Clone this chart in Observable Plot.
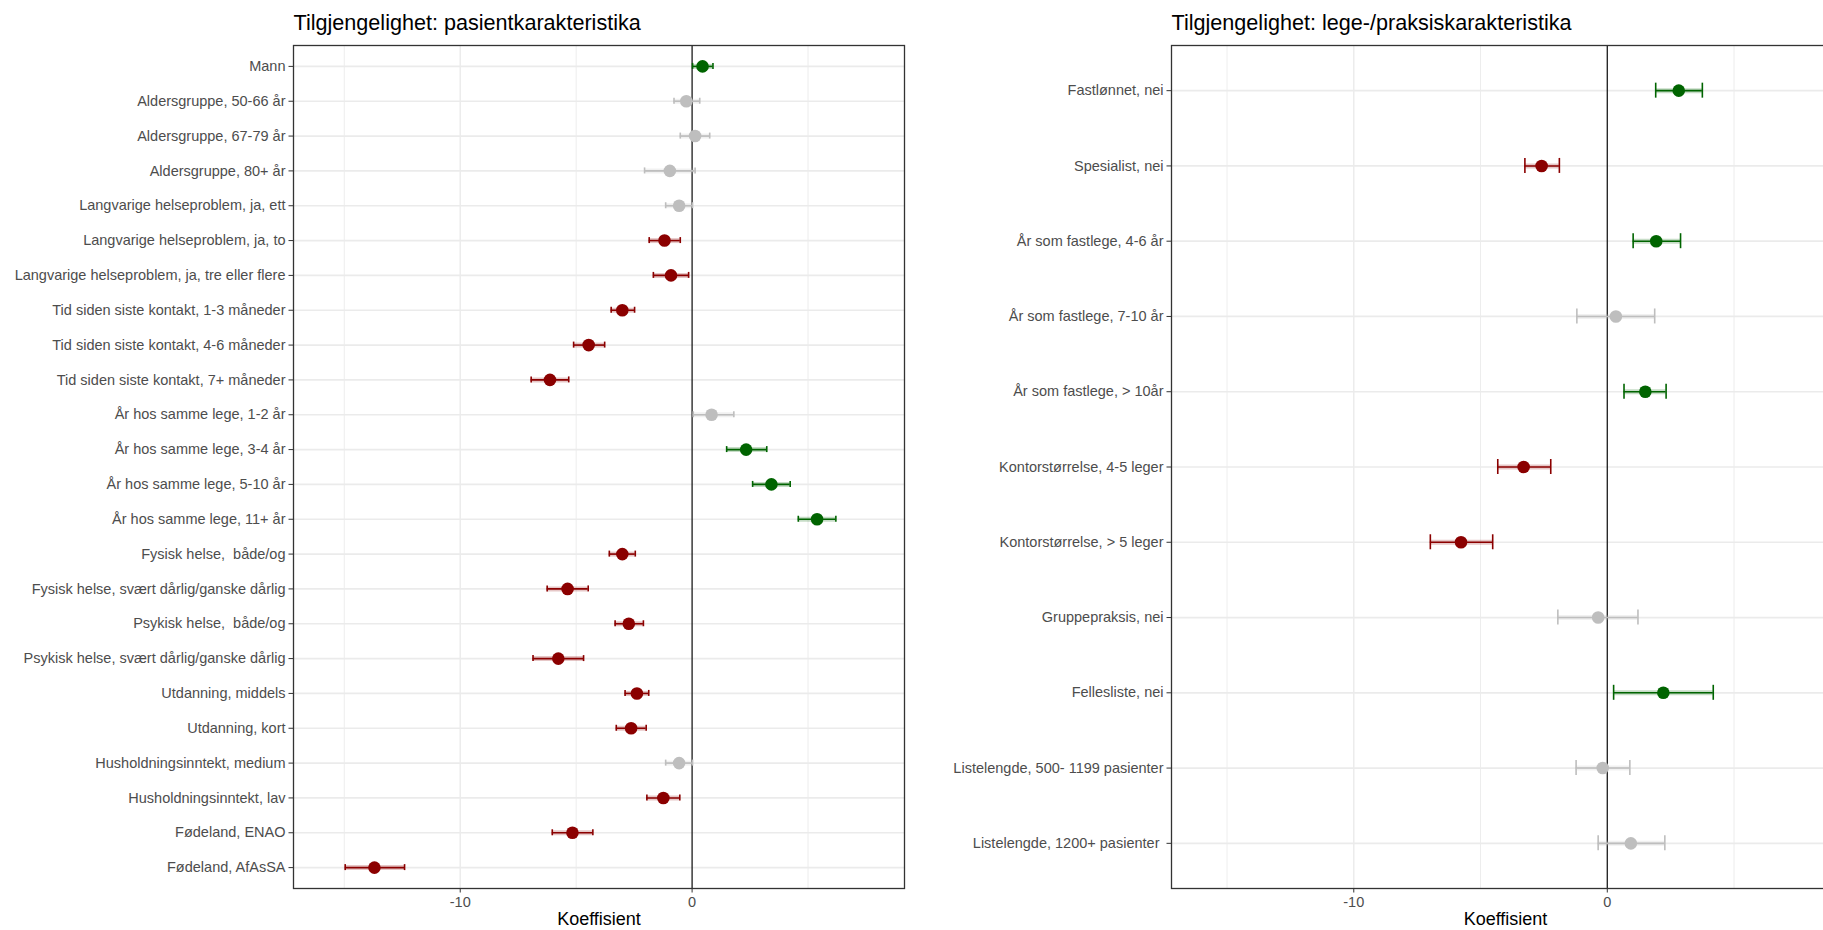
<!DOCTYPE html>
<html>
<head>
<meta charset="utf-8">
<script src="https://cdn.jsdelivr.net/npm/d3@7"></script>
<script src="https://cdn.jsdelivr.net/npm/@observablehq/plot@0.6"></script>
<style>
  html, body { margin: 0; padding: 0; background: #fff; overflow: hidden; }
  #wrap { position: relative; width: 1823px; height: 930px; overflow: hidden; background: #fff; }
  #wrap > div { position: absolute; top: 0; }
  #wrap svg { display: block; max-width: none !important; }
</style>
</head>
<body>
<div id="wrap">
  <div id="left" style="left:0px; width:910px"></div>
  <div id="right" style="left:900px; width:945px"></div>
</div>
<script>
// Patient characteristics: estimate with 95 % interval, and significance class
const patientLabels = [
  "Mann",
  "Aldersgruppe, 50-66 år",
  "Aldersgruppe, 67-79 år",
  "Aldersgruppe, 80+ år",
  "Langvarige helseproblem, ja, ett",
  "Langvarige helseproblem, ja, to",
  "Langvarige helseproblem, ja, tre eller flere",
  "Tid siden siste kontakt, 1-3 måneder",
  "Tid siden siste kontakt, 4-6 måneder",
  "Tid siden siste kontakt, 7+ måneder",
  "År hos samme lege, 1-2 år",
  "År hos samme lege, 3-4 år",
  "År hos samme lege, 5-10 år",
  "År hos samme lege, 11+ år",
  "Fysisk helse,  både/og",
  "Fysisk helse, svært dårlig/ganske dårlig",
  "Psykisk helse,  både/og",
  "Psykisk helse, svært dårlig/ganske dårlig",
  "Utdanning, middels",
  "Utdanning, kort",
  "Husholdningsinntekt, medium",
  "Husholdningsinntekt, lav",
  "Fødeland, ENAO",
  "Fødeland, AfAsSA"
];
const patientEst  = [0.45, -0.25, 0.13, -0.96, -0.56, -1.19, -0.91, -3.01, -4.46, -6.13, 0.84, 2.33, 3.42, 5.39, -3.01, -5.37, -2.73, -5.77, -2.38, -2.63, -0.56, -1.24, -5.16, -13.70];
const patientLow  = [0.02, -0.78, -0.51, -2.05, -1.14, -1.85, -1.67, -3.49, -5.11, -6.94, 0.05, 1.49, 2.61, 4.58, -3.57, -6.25, -3.32, -6.86, -2.89, -3.27, -1.14, -1.95, -6.03, -14.96];
const patientHigh = [0.90, 0.33, 0.76, 0.13, 0.02, -0.51, -0.15, -2.48, -3.77, -5.32, 1.80, 3.22, 4.23, 6.20, -2.45, -4.48, -2.10, -4.68, -1.87, -1.98, 0.02, -0.53, -4.28, -12.40];
const patientSig  = ["pos", "ns", "ns", "ns", "ns", "neg", "neg", "neg", "neg", "neg", "ns", "pos", "pos", "pos", "neg", "neg", "neg", "neg", "neg", "neg", "ns", "neg", "neg", "neg"];

// Doctor / practice characteristics
const practiceLabels = [
  "Fastlønnet, nei",
  "Spesialist, nei",
  "År som fastlege, 4-6 år",
  "År som fastlege, 7-10 år",
  "År som fastlege, > 10år",
  "Kontorstørrelse, 4-5 leger",
  "Kontorstørrelse, > 5 leger",
  "Gruppepraksis, nei",
  "Fellesliste, nei",
  "Listelengde, 500- 1199 pasienter",
  "Listelengde, 1200+ pasienter "
];
const practiceEst  = [2.82, -2.59, 1.93, 0.34, 1.50, -3.30, -5.77, -0.36, 2.21, -0.18, 0.93];
const practiceLow  = [1.91, -3.25, 1.02, -1.20, 0.66, -4.32, -6.98, -1.95, 0.25, -1.23, -0.36];
const practiceHigh = [3.75, -1.89, 2.89, 1.87, 2.32, -2.23, -4.52, 1.21, 4.18, 0.89, 2.27];
const practiceSig  = ["pos", "neg", "pos", "ns", "pos", "neg", "neg", "ns", "pos", "ns", "ns"];

const sigClasses = ["pos", "neg", "ns"];
const sigColors  = ["#006400", "#8B0000", "#BEBEBE"];

const xDomain = [-17.19, 9.16];
const xTicks = [-10, 0];
const xMajorGrid = [-10];
const xMinorGrid = [-15, -5, 5];

function forestPanel({title, labels, est, low, high, sig, width, marginLeft, capHalf}) {
  const rows = labels.map((label, i) => ({label, est: est[i], low: low[i], high: high[i], sig: sig[i]}));
  // short vertical caps at both interval ends
  const cap = key => Plot.ruleX(rows, {x: key, y1: "label", y2: "label", stroke: "sig", strokeWidth: 1.6, insetTop: -capHalf, insetBottom: -capHalf});
  return Plot.plot({
    width,
    height: 930,
    marginLeft,
    marginRight: 6,
    marginTop: 45,
    marginBottom: 42,
    style: {fontFamily: "'Liberation Sans', Arial, Helvetica, sans-serif", background: "transparent", overflow: "visible"},
    x: {domain: xDomain},
    y: {type: "point", domain: labels, padding: 0.6, round: false},
    color: {domain: sigClasses, range: sigColors},
    marks: [
      Plot.gridX(xMinorGrid, {stroke: "#ebebeb", strokeOpacity: 1, strokeWidth: 0.9}),
      Plot.gridX(xMajorGrid, {stroke: "#ebebeb", strokeOpacity: 1, strokeWidth: 1.4}),
      Plot.gridY(labels, {stroke: "#ebebeb", strokeOpacity: 1, strokeWidth: 1.7}),
      Plot.ruleX([0], {stroke: "#1a1a1a", strokeWidth: 1.3}),
      // soft halo behind each interval line
      Plot.ruleY(rows, {y: "label", x1: "low", x2: "high", stroke: "sig", strokeWidth: 5, strokeOpacity: 0.22}),
      Plot.ruleY(rows, {y: "label", x1: "low", x2: "high", stroke: "sig", strokeWidth: 1.6}),
      cap("low"),
      cap("high"),
      Plot.dot(rows, {x: "est", y: "label", fill: "sig", r: 6.3}),
      Plot.frame({stroke: "#333333", strokeWidth: 1.3}),
      Plot.axisY({tickSize: 4.5, tickPadding: 3.5, fontSize: 14.5, fill: "#4d4d4d", stroke: "#333333", label: null}),
      Plot.axisX({ticks: xTicks, tickFormat: d => String(d), tickSize: 4.5, tickPadding: 3.5, fontSize: 14.5, fill: "#4d4d4d", stroke: "#333333", label: null}),
      // panel title, left-aligned with the panel edge
      Plot.text([title], {x: () => xDomain[0], frameAnchor: "top", text: d => d, dy: -22, fontSize: 21.6, textAnchor: "start", lineAnchor: "middle", fill: "#000"}),
      Plot.text(["Koeffisient"], {frameAnchor: "bottom", text: d => d, dy: 31, fontSize: 18, lineAnchor: "middle", fill: "#000"})
    ]
  });
}

document.getElementById("left").append(forestPanel({
  title: "Tilgjengelighet: pasientkarakteristika",
  labels: patientLabels, est: patientEst, low: patientLow, high: patientHigh, sig: patientSig,
  width: 910, marginLeft: 293, capHalf: 3
}));

document.getElementById("right").append(forestPanel({
  title: "Tilgjengelighet: lege-/praksiskarakteristika",
  labels: practiceLabels, est: practiceEst, low: practiceLow, high: practiceHigh, sig: practiceSig,
  width: 945, marginLeft: 271, capHalf: 7.5
}));
</script>
</body>
</html>
